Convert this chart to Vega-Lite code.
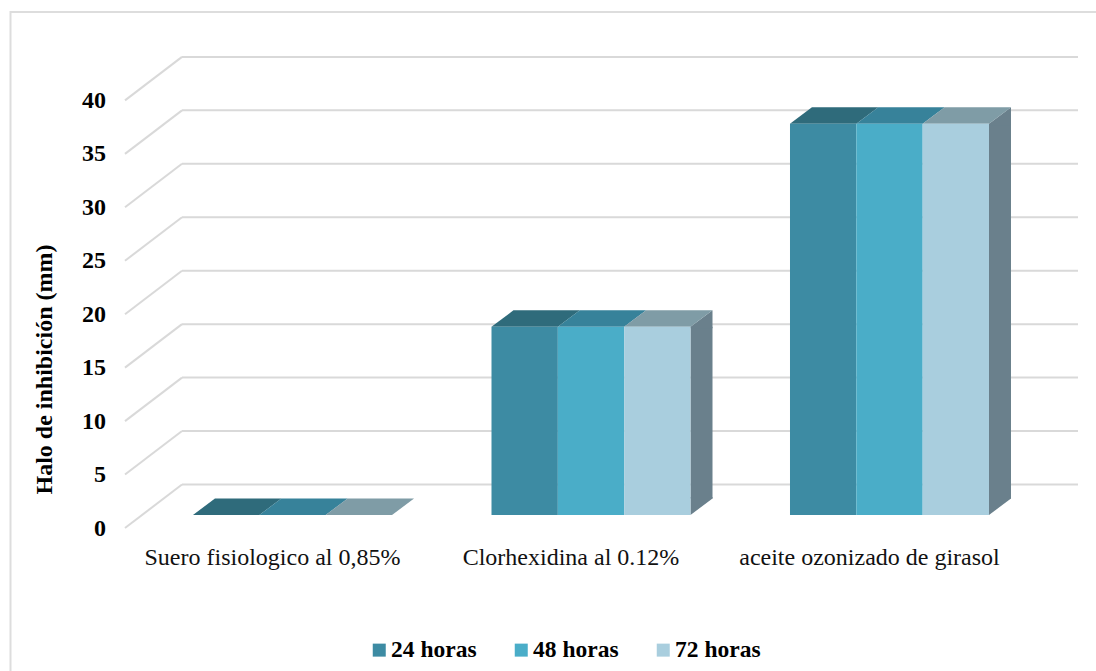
{
  "$schema": "https://vega.github.io/schema/vega-lite/v6.json",
  "width": 1090,
  "height": 664,
  "autosize": "none",
  "padding": {"left": 10.5, "top": 12, "right": 0, "bottom": 0},
  "background": "white",
  "config": {
    "font": "Liberation Serif",
    "view": {"stroke": "#DDDDDD", "strokeWidth": 2}
  },
  "datasets": {
    "halos": [
      {"producto": "Suero fisiologico al 0,85%", "tiempo": "24 horas", "halo": 0},
      {"producto": "Suero fisiologico al 0,85%", "tiempo": "48 horas", "halo": 0},
      {"producto": "Suero fisiologico al 0,85%", "tiempo": "72 horas", "halo": 0},
      {"producto": "Clorhexidina al 0.12%", "tiempo": "24 horas", "halo": 17.6},
      {"producto": "Clorhexidina al 0.12%", "tiempo": "48 horas", "halo": 17.6},
      {"producto": "Clorhexidina al 0.12%", "tiempo": "72 horas", "halo": 17.6},
      {"producto": "aceite ozonizado de girasol", "tiempo": "24 horas", "halo": 36.6},
      {"producto": "aceite ozonizado de girasol", "tiempo": "48 horas", "halo": 36.6},
      {"producto": "aceite ozonizado de girasol", "tiempo": "72 horas", "halo": 36.6}
    ],
    "marcas": [
      {"mm": 0}, {"mm": 5}, {"mm": 10}, {"mm": 15}, {"mm": 20},
      {"mm": 25}, {"mm": 30}, {"mm": 35}, {"mm": 40}
    ]
  },
  "layer": [
    {
      "description": "Back wall gridlines",
      "data": {"name": "marcas"},
      "mark": {"type": "rule", "stroke": "#D9D9D9", "strokeWidth": 2, "xOffset": -110.5, "x2Offset": 188.5, "yOffset": -30.5},
      "encoding": {
        "x": {"datum": "Suero fisiologico al 0,85%", "type": "nominal", "scale": {"domain": ["Suero fisiologico al 0,85%", "Clorhexidina al 0.12%", "aceite ozonizado de girasol"], "range": [132.75, 1028.25], "paddingInner": 0.3333, "paddingOuter": 0.16667}, "title": null,
          "axis": {"orient": "bottom", "offset": -131, "title": null, "domain": false, "ticks": false, "labelPadding": 0, "labelAngle": 0, "labelLimit": 0, "labelFontSize": 24, "labelColor": "#111111", "labelOffset": -20, "labelBaseline": "top"}},
        "x2": {"datum": "aceite ozonizado de girasol"},
        "y": {"field": "mm", "type": "quantitative", "scale": {"domain": [0, 40], "range": [503, 75.4], "nice": false}, "title": "Halo de inhibición (mm)",
          "axis": {"orient": "left", "offset": -95, "values": [0, 5, 10, 15, 20, 25, 30, 35, 40], "grid": false, "domain": false, "ticks": false, "labelPadding": 0, "labelFontSize": 24, "labelFontWeight": "bold", "labelColor": "#000000", "labelOffset": 13, "titleFontSize": 24, "titleFontWeight": "bold", "titleColor": "#000000", "titleX": -49, "titleY": 357, "titleAlign": "center", "titleAngle": -90}}
      }
    },
    {
      "description": "Side wall gridlines running from the front edge to the back wall",
      "data": {"name": "marcas"},
      "mark": {"type": "rule", "stroke": "#D9D9D9", "strokeWidth": 2, "xOffset": -167.5, "x2Offset": -110.5, "yOffset": 13, "y2Offset": -30.5},
      "encoding": {
        "x": {"datum": "Suero fisiologico al 0,85%", "type": "nominal", "title": null},
        "x2": {"datum": "Suero fisiologico al 0,85%"},
        "y": {"field": "mm", "type": "quantitative"},
        "y2": {"field": "mm"}
      }
    },
    {
      "description": "Right side face of each group, body",
      "data": {"name": "halos"},
      "transform": [{"filter": "datum.tiempo === '72 horas' && datum.halo > 0"}],
      "mark": {"type": "bar", "width": 22, "xOffset": 110.5, "y2Offset": -16.5, "fill": "#6A808C"},
      "encoding": {
        "x": {"field": "producto", "type": "nominal", "title": null},
        "y": {"field": "halo", "type": "quantitative"},
        "y2": {"datum": 0}
      }
    },
    {
      "description": "Right side face of each group, upper corner",
      "data": {"name": "halos"},
      "transform": [{"filter": "datum.tiempo === '72 horas' && datum.halo > 0"}],
      "mark": {"type": "point", "filled": true, "opacity": 1, "size": 4, "shape": "M0,0L22,-16.5L22,1.5L0,1.5Z", "xOffset": 99.5, "fill": "#6A808C", "strokeWidth": 0},
      "encoding": {
        "x": {"field": "producto", "type": "nominal", "title": null},
        "y": {"field": "halo", "type": "quantitative"}
      }
    },
    {
      "description": "Right side face of each group, lower corner",
      "data": {"name": "halos"},
      "transform": [{"filter": "datum.tiempo === '72 horas' && datum.halo > 0"}],
      "mark": {"type": "point", "filled": true, "opacity": 1, "size": 4, "shape": "M0,0L22,-16.5L22,-18L0,-18Z", "xOffset": 99.5, "fill": "#6A808C", "strokeWidth": 0},
      "encoding": {
        "x": {"field": "producto", "type": "nominal", "title": null},
        "y": {"datum": 0, "type": "quantitative"}
      }
    },
    {
      "description": "Top face of each bar",
      "data": {"name": "halos"},
      "mark": {"type": "point", "filled": true, "opacity": 1, "size": 4, "shape": "M-33.2,0L33.2,0L55.2,-16.5L-11.2,-16.5Z"},
      "encoding": {
        "x": {"field": "producto", "type": "nominal", "title": null},
        "xOffset": {"field": "tiempo", "type": "nominal", "sort": ["24 horas", "48 horas", "72 horas"]},
        "y": {"field": "halo", "type": "quantitative"},
        "fill": {"field": "tiempo", "type": "nominal", "legend": null, "scale": {"domain": ["72 horas", "48 horas", "24 horas"], "range": ["#7F9CA6", "#37829A", "#2F6B7B"]}}
      }
    },
    {
      "description": "Front face of each bar",
      "data": {"name": "halos"},
      "mark": {"type": "bar"},
      "encoding": {
        "x": {"field": "producto", "type": "nominal", "title": null},
        "xOffset": {"field": "tiempo", "type": "nominal", "sort": ["24 horas", "48 horas", "72 horas"]},
        "y": {"field": "halo", "type": "quantitative"},
        "color": {"field": "tiempo", "type": "nominal", "title": null,
          "scale": {"domain": ["24 horas", "48 horas", "72 horas"], "range": ["#3D8BA3", "#4AADC8", "#A9CEDE"]},
          "legend": {"orient": "none", "legendX": 357, "legendY": 626, "direction": "horizontal", "symbolType": "square", "symbolSize": 169, "symbolStrokeWidth": 0, "labelFontSize": 23.5, "labelFontWeight": "bold", "labelColor": "#000000", "labelOffset": 0, "columnPadding": 32, "labelLimit": 0}}
      }
    }
  ]
}
